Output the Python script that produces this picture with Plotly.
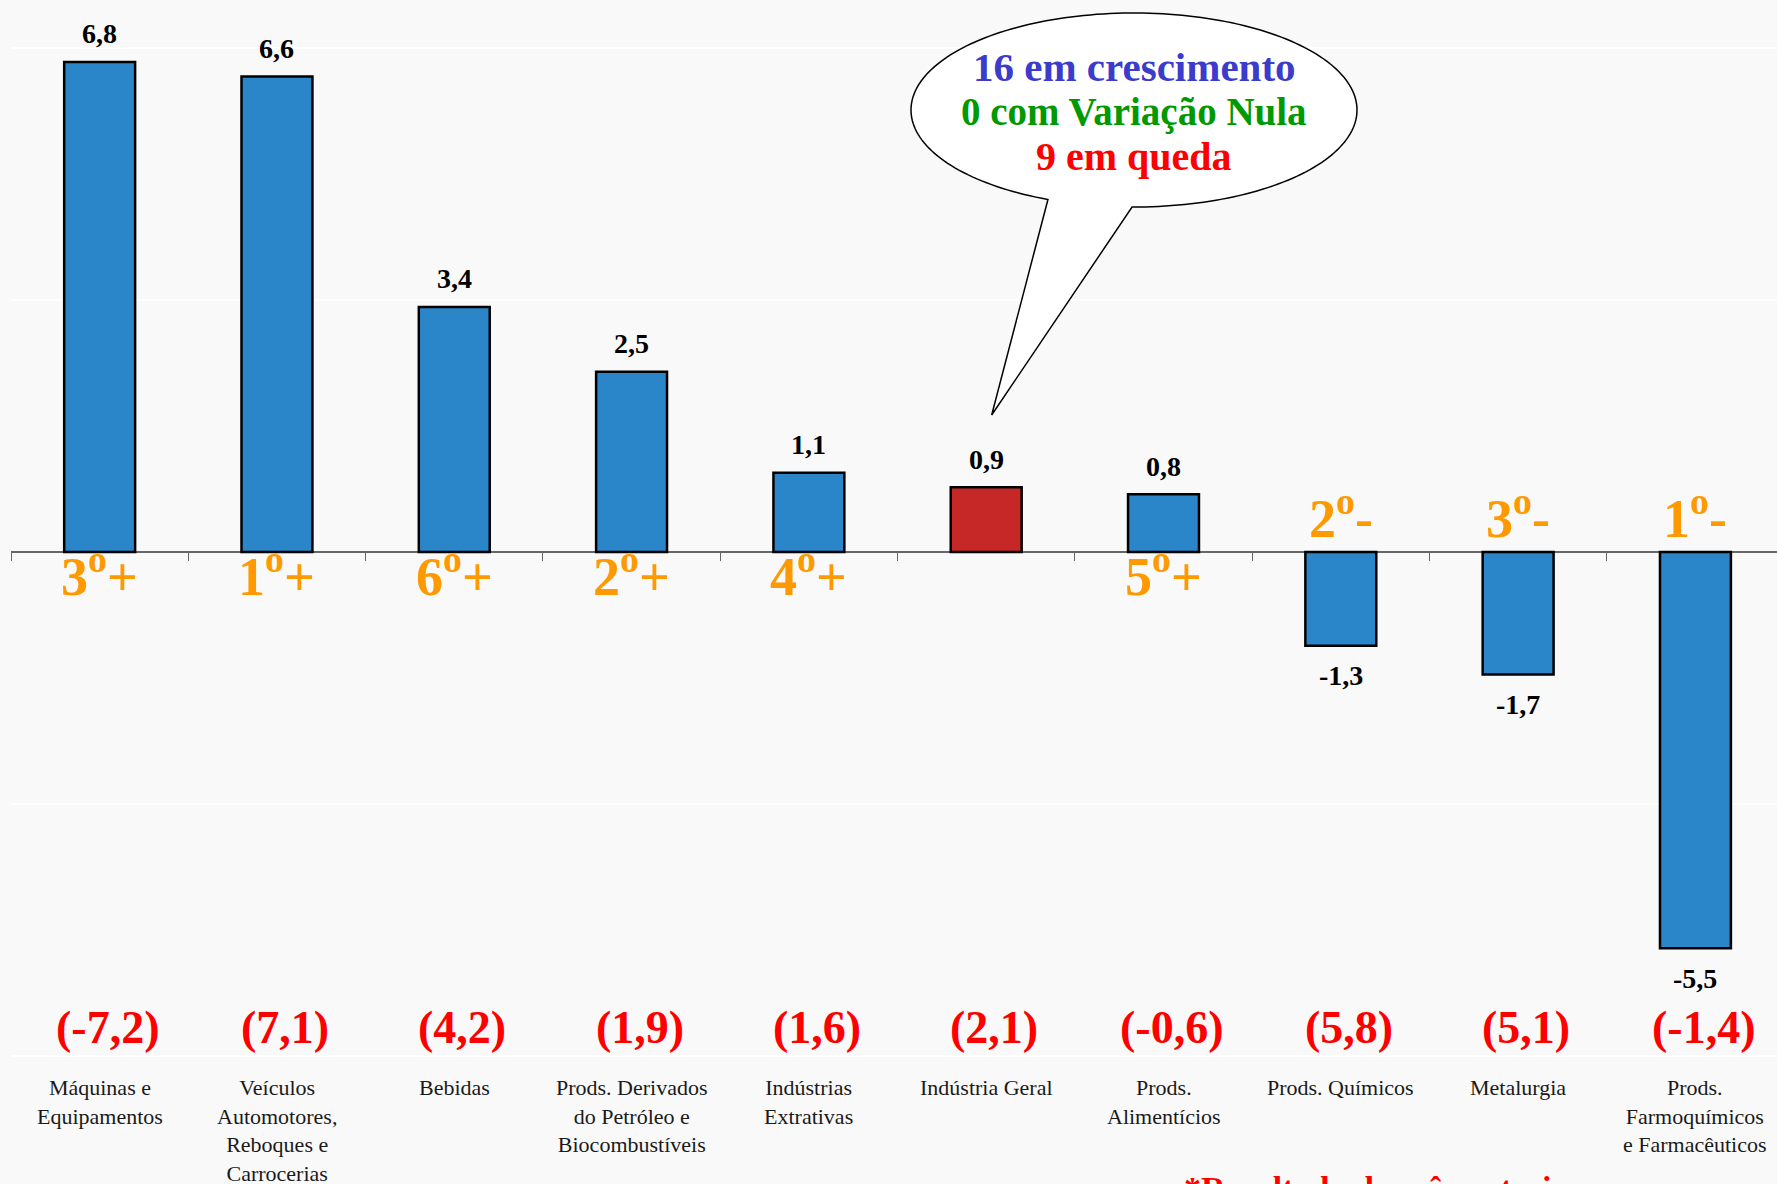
import numpy as np
import plotly.graph_objects as go

# ---------------- data ----------------
categories = [
    "Máquinas e Equipamentos",
    "Veículos Automotores, Reboques e Carrocerias",
    "Bebidas",
    "Prods. Derivados do Petróleo e Biocombustíveis",
    "Indústrias Extrativas",
    "Indústria Geral",
    "Prods. Alimentícios",
    "Prods. Químicos",
    "Metalurgia",
    "Prods. Farmoquímicos e Farmacêuticos",
]
category_labels = [
    "Máquinas e<br>Equipamentos",
    "Veículos<br>Automotores,<br>Reboques e<br>Carrocerias",
    "Bebidas",
    "Prods. Derivados<br>do Petróleo e<br>Biocombustíveis",
    "Indústrias<br>Extrativas",
    "Indústria Geral",
    "Prods.<br>Alimentícios",
    "Prods. Químicos",
    "Metalurgia",
    "Prods.<br>Farmoquímicos<br>e Farmacêuticos",
]
values = [6.8, 6.6, 3.4, 2.5, 1.1, 0.9, 0.8, -1.3, -1.7, -5.5]
prev_month = [-7.2, 7.1, 4.2, 1.9, 1.6, 2.1, -0.6, 5.8, 5.1, -1.4]
ranks = ["3º+", "1º+", "6º+", "2º+", "4º+", "", "5º+", "2º-", "3º-", "1º-"]
highlight = "Indústria Geral"
bubble_lines = ["16 em crescimento", "0 com Variação Nula", "9 em queda"]
footnote = "*Resultado do mês anterior"

# ---------------- layout constants ----------------
W, H = 1777, 1184
ML = 11
Y_RANGE = [-8.77, 7.66]
X_RANGE = [-0.5, 9.46]
BLUE = "#2a86c8"
RED_BAR = "#c62828"
ORANGE = "#ff9900"
SERIF = "Liberation Serif, Times New Roman, serif"


def fmt(v):
    return f"{v:.1f}".replace(".", ",")


def px2paper(px):
    return (px - ML) / (W - ML)


def py2paper(py):
    return 1 - py / H


colors = [RED_BAR if c == highlight else BLUE for c in categories]

fig = go.Figure()
fig.add_trace(go.Bar(
    x=categories, y=values, width=0.4,
    marker=dict(color=colors, line=dict(color="black", width=2.5)),
    hoverinfo="skip",
))

annotations = []
for c, v in zip(categories, values):
    annotations.append(dict(
        x=c, y=v, xref="x", yref="y", text=fmt(v), showarrow=False,
        yanchor="middle", yshift=28 if v >= 0 else -30,
        font=dict(family=SERIF, size=28, color="black", weight="bold"),
    ))

for c, v, r in zip(categories, values, ranks):
    if not r:
        continue
    annotations.append(dict(
        x=c, y=0, xref="x", yref="y", text=r.replace("º", "<sup>o</sup>"),
        showarrow=False, yanchor="middle", yshift=-20 if v >= 0 else 38,
        font=dict(family=SERIF, size=54, color=ORANGE, weight="bold"),
    ))

for c, p in zip(categories, prev_month):
    annotations.append(dict(
        x=c, y=py2paper(1027), xref="x", yref="paper", text=f"({fmt(p)})",
        showarrow=False, yanchor="middle", xshift=8,
        font=dict(family=SERIF, size=46, color="#ff0000", weight="bold"),
    ))

for c, lab in zip(categories, category_labels):
    annotations.append(dict(
        x=c, y=py2paper(1073), xref="x", yref="paper", text=lab,
        showarrow=False, yanchor="top", align="center",
        font=dict(family=SERIF, size=22, color="#1a1a1a"),
    ))

bubble_colors = ["#3b3bcc", "#009900", "#ff0000"]
bubble_y = [67, 112, 156]
bubble_sizes = [41, 39, 40]
for t, col, yy, fs in zip(bubble_lines, bubble_colors, bubble_y, bubble_sizes):
    annotations.append(dict(
        x=px2paper(1134), y=py2paper(yy), xref="paper", yref="paper",
        text=t, showarrow=False, xanchor="center", yanchor="middle",
        font=dict(family=SERIF, size=fs, color=col, weight="bold"),
    ))

annotations.append(dict(
    x=px2paper(1383), y=py2paper(1168), xref="paper", yref="paper",
    text=footnote, showarrow=False, xanchor="center", yanchor="top",
    font=dict(family=SERIF, size=34, color="#ff0000", weight="bold"),
))

# speech bubble (ellipse + tail) in pixel space -> paper
cx, cy, a, b = 1134, 110, 223, 97
t = np.radians(np.linspace(90.5, -247.3, 200))
pts = [(cx + a * np.cos(tt), cy + b * np.sin(tt)) for tt in t]
pts.append((991.7, 415))
path = "M " + " L ".join(f"{px2paper(x):.5f},{py2paper(y):.5f}" for x, y in pts) + " Z"
shapes = [dict(type="path", xref="paper", yref="paper", path=path,
               fillcolor="white", line=dict(color="black", width=1.5))]

fig.update_layout(
    width=W, height=H,
    margin=dict(l=ML, r=0, t=0, b=0),
    paper_bgcolor="#f9f9f9", plot_bgcolor="#f9f9f9",
    showlegend=False,
    annotations=annotations,
    shapes=shapes,
    xaxis=dict(
        range=X_RANGE, anchor="free",
        position=(0 - Y_RANGE[0]) / (Y_RANGE[1] - Y_RANGE[0]),
        showline=True, linecolor="#666666", linewidth=1.5,
        ticks="outside", ticklen=8, tickcolor="#666666", tickwidth=1.2,
        tickson="boundaries", showticklabels=False, showgrid=False,
        layer="below traces", fixedrange=True,
    ),
    yaxis=dict(
        range=Y_RANGE, showgrid=True, gridcolor="#ffffff", gridwidth=1.5,
        dtick=3.5, tick0=0, zeroline=False, showticklabels=False,
        showline=False, fixedrange=True,
    ),
)

fig.write_html(
    "out.html",
    config={"displayModeBar": False},
    post_script="document.body.style.margin='0';document.body.style.overflow='hidden';",
)
